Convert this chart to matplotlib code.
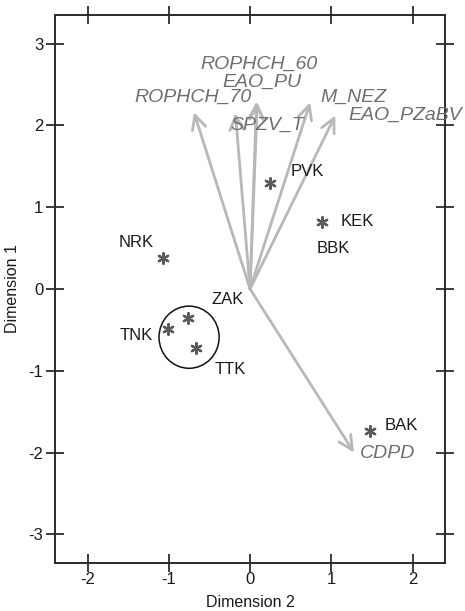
import numpy as np
import matplotlib
matplotlib.use("Agg")
import matplotlib.pyplot as plt
from matplotlib.patches import Ellipse

plt.rcParams['font.family'] = ['Liberation Sans', 'DejaVu Sans']
plt.rcParams['axes.unicode_minus'] = False

# variables (arrows)
var_names = ["ROPHCH_70", "SPZV_T", "EAO_PU", "ROPHCH_60", "M_NEZ", "EAO_PZaBV", "CDPD"]
var_x = [-0.69, -0.18, 0.09, 0.08, 0.74, 1.05, 1.28]
var_y = [2.16, 2.15, 2.28, 2.29, 2.28, 2.12, -2.00]
# label positions for variables
var_lx = [-0.70, 0.21, 0.15, 0.11, 1.27, 1.91, 1.35]
var_ly = [2.34, 2.00, 2.52, 2.74, 2.34, 2.12, -2.01]
var_ha = ["center", "center", "center", "center", "center", "center", "left"]

# sites (stars)
site_names = ["PVK", "KEK", "NRK", "ZAK", "TNK", "TTK", "BAK"]
site_x = [0.25, 0.89, -1.07, -0.76, -1.01, -0.66, 1.48]
site_y = [1.30, 0.82, 0.38, -0.35, -0.49, -0.72, -1.74]
# label positions for sites (BBK has only a label)
lab_names = ["PVK", "KEK", "BBK", "NRK", "ZAK", "TNK", "TTK", "BAK"]
lab_x = [0.50, 1.12, 0.82, -1.18, -0.47, -1.19, -0.44, 1.66]
lab_y = [1.43, 0.82, 0.49, 0.57, -0.13, -0.57, -0.98, -1.67]
lab_ha = ["left", "left", "left", "right", "left", "right", "left", "left"]

fig = plt.figure(figsize=(4.65, 6.11), dpi=100)
ax = fig.add_axes([0.1183, 0.0786, 0.8387, 0.897])

arrow_col = "#b8b8b8"
for x, y in zip(var_x, var_y):
    ax.annotate("", xy=(x, y), xytext=(0, 0),
                arrowprops=dict(arrowstyle="->,head_length=1.0,head_width=0.5",
                                color=arrow_col, lw=2.0, shrinkA=0, shrinkB=0))

for n, x, y, ha in zip(var_names, var_lx, var_ly, var_ha):
    ax.text(x, y, n, ha=ha, va="center", fontsize=14, style="italic",
            color="#6e6e6e", clip_on=False)

ax.scatter(site_x, site_y, marker=(6, 2, 0), s=60, color="#5a5a5a", linewidths=1.6, zorder=3)

for n, x, y, ha in zip(lab_names, lab_x, lab_y, lab_ha):
    ax.text(x, y, n, ha=ha, va="center", fontsize=12, color="#1a1a1a")

ax.add_patch(Ellipse((-0.75, -0.59), 0.74, 0.76, fill=False, color="#111111", lw=1.1))

ax.set_xlim(-2.4, 2.4)
ax.set_ylim(-3.35, 3.35)
ax.set_xticks([-2, -1, 0, 1, 2])
ax.set_yticks([-3, -2, -1, 0, 1, 2, 3])
ax.tick_params(direction="inout", length=13, width=1.2, labelsize=12, colors="#1a1a1a",
               top=True, right=True)
ax.tick_params(axis="x", pad=0)
ax.tick_params(axis="y", pad=2)
for s in ax.spines.values():
    s.set_linewidth(1.4)
    s.set_color("#2a2a2a")

ax.set_xlabel("Dimension 2", fontsize=11.5, color="#1a1a1a", va="center")
ax.set_ylabel("Dimension 1", fontsize=11.5, color="#1a1a1a", va="center")
ax.xaxis.set_label_coords(0.5, -0.073)
ax.yaxis.set_label_coords(-0.110, 0.5)

fig.savefig("out.png", dpi=100)
